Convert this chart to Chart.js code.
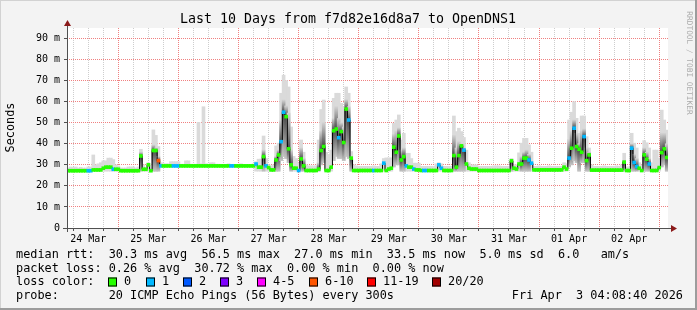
<!DOCTYPE html>
<html>
<head>
<meta charset="utf-8">
<script src="https://cdn.jsdelivr.net/npm/chart.js@4.4.1/dist/chart.umd.min.js"></script>
<style>
  html, body { margin: 0; padding: 0; background: #f3f3f3; }
</style>
</head>
<body>
<canvas id="c" width="697" height="310"></canvas>
<script>
const _ = null;

// hours from the left edge of the plot to 25 Mar 00:00
const firstMidnight = 20.5;
const dayLabels = ['24 Mar', '25 Mar', '26 Mar', '27 Mar', '28 Mar', '29 Mar', '30 Mar', '31 Mar', '01 Apr', '02 Apr'];
const yTicks = [0, 5, 10, 15, 20, 25, 30, 35, 40, 45, 50, 55, 60, 65, 70, 75, 80, 85, 90, 95];

// median rtt (ms), one value per hour, 24 per row
const median = [
  27.2,27.2,27.2,27.2,27.2,27.2,27.2,27.2,27.2,27.2,27.6,27.6,27.6,27.6,28.4,28.9,28.9,28.9,27.9,27.9,27.9,27.2,27.2,27.2,
  27.2,27.2,27.2,27.2,27.2,34.2,27.9,27.9,30,27.2,36.8,36.8,32,29.5,29.5,29.5,29.5,29.5,29.5,29.5,29.5,29.5,29.5,29.5,
  29.5,29.5,29.5,29.5,29.5,29.5,29.5,29.5,29.5,29.5,29.5,29.5,29.5,29.5,29.5,29.5,29.5,29.5,29.5,29.5,29.5,29.5,29.5,29.5,
  29.5,29.5,29.5,30.4,28.9,28.9,33.9,29.5,28.7,27.6,27.6,32.3,34.7,41,55,52.9,37.6,30,28.4,28.4,27.3,32.8,29.5,27.3,
  27.3,27.3,27.3,27.3,28,36.8,38.7,27.3,27.3,28.9,46.2,47,42.9,45.8,40.6,56.5,51.3,33.2,27.3,27.3,27.3,27.3,27.3,27.3,
  27.3,27.3,27.3,27.3,27.3,27.3,30.8,27.3,28,28.4,38.4,36,43.7,32.3,33.9,29.5,28.9,28.9,28,27.6,27.6,27.3,27.3,27.3,
  27.3,27.3,27.3,27.3,30,28.4,27.3,27.3,27.3,27.3,34.4,28.9,34.4,39,37,30.4,28.4,28,28,28,27.3,27.3,27.3,27.3,
  27.3,27.3,27.3,27.3,27.3,27.3,27.3,27.3,27.3,31.9,28.4,28,30.4,30.4,33.2,33.2,32.3,30.8,27.6,27.6,27.6,27.6,27.6,27.6,
  27.6,27.6,27.6,27.6,27.6,27.6,28.9,28,33.2,37.9,47.4,38.7,37.4,36,43.4,32,34.7,27.5,27.5,27.5,27.5,27.5,27.5,27.5,
  27.5,27.5,27.5,27.5,27.5,27.5,31.3,27.3,27.3,37.9,31.1,29.2,28.4,27.3,34.7,32.7,30.4,27.3,27.3,27.3,28.7,35.8,37.6,33.5
];

// lost pings out of 20, per hour
const loss = [
  0,0,0,0,0,0,0,0,1,1,0,0,0,0,0,0,0,0,1,0,0,0,0,0,
  0,0,0,0,0,0,0,0,0,0,0,0,6,1,0,0,0,0,1,1,1,0,0,0,
  0,0,0,0,0,0,0,0,0,0,0,0,0,0,0,0,0,1,1,0,0,0,0,0,
  0,0,0,1,0,0,0,1,0,0,0,0,0,1,1,0,0,0,0,0,1,0,0,0,
  0,0,0,0,0,0,0,0,0,0,0,0,1,0,0,0,1,0,0,0,0,0,0,0,
  0,0,1,0,0,0,1,0,0,0,0,0,0,0,0,1,0,0,1,0,0,0,1,1,
  0,0,0,0,1,1,0,0,0,0,0,0,0,0,1,0,0,0,0,0,0,0,0,0,
  0,0,0,0,0,0,0,0,0,0,0,0,0,0,0,0,1,1,0,0,0,0,0,0,
  0,0,0,0,0,0,0,0,1,0,1,0,0,0,1,0,0,0,0,0,0,0,0,0,
  0,0,0,0,0,0,0,0,0,1,1,1,0,0,0,0,1,0,0,0,0,0,0,0
];

// smoke: lowest ping, highest ping, top of the dense part
const smokeLow = [
  27,27,27,27,27,27,27,27,27,27,27,27,27,27,27,27,27,27,27,27,27,27,27,27,
  27,27,27,27,27,27,27,27,27,27,27,27,27,29.2,29.2,29.2,29.2,29.2,29.2,29.2,29.2,29.2,29.2,29.2,
  29.2,29.2,29.2,29.2,29.2,29.2,29.2,29.2,29.2,29.2,29.2,29.2,29.2,29.2,29.2,29.2,29.2,29.2,29.2,29.2,29.2,29.2,29.2,29.2,
  29.2,29.2,29.2,27,27,27,27,27,27,27,27,27,27,32,34,33,31,27,27,27,27,27,27,27,
  27,27,27,27,27,30,31,27,27,27,32,34,33,33,32,34,33,27,27,27,27,27,27,27,
  27,27,27,27,27,27,27,27,27,27,29,30,30,27,27,27,27,27,27,27,27,27,27,27,
  27,27,27,27,27,27,27,27,27,27,27,27,27,27,27,27,27,27,27,27,27,27,27,27,
  27,27,27,27,27,27,27,27,27,27,27,27,27,27,27,27,27,27,27,27,27,27,27,27,
  27,27,27,27,27,27,27,27,29,30,32,31,27,31,31,27,27,27,27,27,27,27,27,27,
  27,27,27,27,27,27,27,27,27,27,27,27,27,27,27,27,27,27,27,27,27,29,30,27
];
const smokeTop = [
  28.5,29,28.8,29,28.5,28.8,28.5,28.5,29,29,34.7,30,30.5,31,31.9,31.9,33.2,33.2,32.5,30,29.5,28.5,28.5,28.5,
  29,29,29,28.5,29,37.4,30,28.5,31,28.5,46.6,44,38.7,31,30.5,30.5,30.5,31.5,31.5,31.5,31.5,30.3,30.3,31.9,
  31.9,30.3,30.3,30.3,50.2,30.5,57.6,30.5,30.3,31,31,30.3,30.3,30.2,30.2,30.2,30.5,30.2,30.2,30.2,30.2,30.5,30.2,30.2,
  30.2,30.2,30.5,31.5,32.7,32.7,43.7,33,30,29.5,30,39,40.3,64,72.6,70,67,48,34,33,31,41.8,36,30,
  29.5,29.5,29.5,29.5,41.8,56.3,60.8,36,35,37,61.6,64,64,59.2,57.6,67,64,36.3,30,29.5,29.3,29.3,29.3,29.3,
  29.3,29.3,29.5,29.3,29.3,30.5,33,33.3,33.3,33.3,49.7,51.3,53.7,41.8,45,35.5,35.5,33,30.8,30.8,30.8,29.3,29.3,29.3,
  29.3,29.3,29.3,30.5,31,30.5,29.3,29.3,29.3,29.3,53.2,45.8,47.4,45.8,43,37,31,30,30,30,29.3,29.3,29.3,29.3,
  29.3,29.3,29.5,29.5,29.5,29.3,29.3,29.3,29.3,33,30,30,35.7,40.3,42.6,42.6,39.5,36,29.3,29.3,29.5,29.3,29.3,29.3,
  29.5,29.3,29.3,29.3,29.3,29.3,31,30.5,51.3,55,60,52.1,45,53.2,53.2,43.4,38,30,29.3,29.3,29.3,29.3,29.5,29.3,
  29.3,29.3,29.3,29.5,29.3,30,35.5,29,29,45,40.3,38,31,30,41.5,40.5,38,31,37,37,33,56,51.3,46.5
];
const smokeDark = [
  _,_,_,_,_,_,_,_,_,_,_,_,_,_,_,_,_,_,_,_,_,_,_,_,
  _,_,_,_,_,36,_,_,_,_,39.4,38,34,_,_,_,_,_,_,_,_,_,_,_,
  _,_,_,_,_,_,_,_,_,_,_,_,_,_,_,_,_,_,_,_,_,_,_,_,
  _,_,_,_,_,_,37,_,_,_,_,34,37,51,60.8,58,54.6,37,_,_,_,38,33,_,
  _,_,_,_,31,46,50,_,_,_,52,57.6,52,50,48,61,57.6,33,_,_,_,_,_,_,
  _,_,_,_,_,_,_,_,_,_,44.5,46,47.5,37,38,_,_,_,_,_,_,_,_,_,
  _,_,_,_,_,_,_,_,_,_,44,38,41,40,38,_,_,_,_,_,_,_,_,_,
  _,_,_,_,_,_,_,_,_,32,_,_,_,34,36,37,35,_,_,_,_,_,_,_,
  _,_,_,_,_,_,_,_,42,46,51.3,45,40,46,47,38,36,_,_,_,_,_,_,_,
  _,_,_,_,_,_,32,_,_,40,35,33,_,_,38,36,33,_,_,_,_,45,45,40
];

const lossLabels = ['0', '1', '2', '3', '4-5', '6-10', '11-19', '20/20'];
const lossColors = ['#26ff00', '#00b8ff', '#0059ff', '#7e00ff', '#ff00ff', '#ff5500', '#ff0000', '#a10000'];

const titleText = 'Last 10 Days from f7d82e16d8a7 to OpenDNS1';
const legendRows = [
  'median rtt:  30.3 ms avg  56.5 ms max  27.0 ms min  33.5 ms now  5.0 ms sd  6.0   am/s',
  'packet loss: 0.26 % avg  30.72 % max  0.00 % min  0.00 % now',
  'loss color:',
  'probe:       20 ICMP Echo Pings (56 Bytes) every 300s'
];
const stampText = 'Fri Apr  3 04:08:40 2026';

function lossBucket(n) {
  if (n <= 3) return n;
  if (n <= 5) return 4;
  if (n <= 10) return 5;
  if (n <= 19) return 6;
  return 7;
}

const lightData = median.map((m, i) => ({ x: i + 0.5, y: [smokeLow[i], smokeTop[i]] }));
const darkData = [];
smokeDark.forEach((d, i) => {
  if (d !== null) darkData.push({ x: i + 0.5, y: [smokeLow[i], d], m: median[i] });
});
const lineData = median.map((m, i) => ({ x: i + 0.5, y: m }));
const markData = median.map((m, i) => ({ x: i + 0.5, y: [m - 0.7, m + 0.7] }));

const mono = 'DejaVu Sans Mono';
const pink = '#f08080';
const grey = '#cdcdcd';

function xGridColor(c) {
  if (!c.tick) return grey;
  const k = Math.round((c.tick.value - firstMidnight) / 6);
  return ((k % 4) + 4) % 4 === 0 ? pink : grey;
}
function yGridColor(c) {
  if (!c.tick) return grey;
  return c.tick.value % 10 === 0 ? pink : grey;
}

const frame = {
  id: 'frame',
  beforeDraw(chart) {
    const { ctx, chartArea: a } = chart;
    ctx.save();
    ctx.fillStyle = '#f3f3f3';
    ctx.fillRect(0, 0, 697, 310);
    ctx.fillStyle = '#ffffff';
    ctx.fillRect(a.left, a.top, a.right - a.left, a.bottom - a.top);
    ctx.restore();
  },
  afterDraw(chart) {
    const { ctx, chartArea: a } = chart;
    ctx.save();

    // axes with arrows
    ctx.strokeStyle = '#505050';
    ctx.lineWidth = 1;
    ctx.beginPath();
    ctx.moveTo(a.left + 0.5, a.bottom + 4);
    ctx.lineTo(a.left + 0.5, a.top - 4);
    ctx.moveTo(a.left - 4, a.bottom + 0.5);
    ctx.lineTo(a.right + 5, a.bottom + 0.5);
    ctx.stroke();
    ctx.fillStyle = '#8b1a1a';
    ctx.beginPath();
    ctx.moveTo(a.left + 0.5, a.top - 8);
    ctx.lineTo(a.left - 3, a.top - 2);
    ctx.lineTo(a.left + 4, a.top - 2);
    ctx.closePath();
    ctx.fill();
    ctx.beginPath();
    ctx.moveTo(a.right + 9, a.bottom + 0.5);
    ctx.lineTo(a.right + 3, a.bottom - 3);
    ctx.lineTo(a.right + 3, a.bottom + 4);
    ctx.closePath();
    ctx.fill();

    // title
    ctx.fillStyle = '#000';
    ctx.textBaseline = 'middle';
    ctx.textAlign = 'center';
    ctx.font = '13.3px "' + mono + '"';
    ctx.fillText(titleText, 348, 19.5);

    // y title
    ctx.font = '11.85px "' + mono + '"';
    ctx.save();
    ctx.translate(11, 127.5);
    ctx.rotate(-Math.PI / 2);
    ctx.fillText('Seconds', 0, 0);
    ctx.restore();

    // side credit
    ctx.save();
    ctx.fillStyle = '#ababab';
    ctx.font = '7.8px "' + mono + '"';
    ctx.translate(689, 63);
    ctx.rotate(Math.PI / 2);
    ctx.fillText('RRDTOOL / TOBI OETIKER', 0, 0);
    ctx.restore();

    // legend
    ctx.textAlign = 'left';
    ctx.font = '11.85px "' + mono + '"';
    const rowY = [255, 268.5, 282, 296];
    legendRows.forEach((t, i) => ctx.fillText(t, 16, rowY[i]));
    ctx.textAlign = 'right';
    ctx.fillText(stampText, 683, rowY[3]);
    ctx.textAlign = 'left';
    const boxX = [108, 146, 183, 220, 257, 309, 367, 432];
    lossLabels.forEach((lab, i) => {
      ctx.fillStyle = lossColors[i];
      ctx.fillRect(boxX[i], rowY[2] - 4.5, 9, 9);
      ctx.strokeStyle = '#000';
      ctx.strokeRect(boxX[i] + 0.5, rowY[2] - 4.5 + 0.5, 8, 8);
      ctx.fillStyle = '#000';
      ctx.fillText(lab, boxX[i] + 16, rowY[2]);
    });

    // outer frame
    ctx.fillStyle = '#d2d2d2';
    ctx.fillRect(0, 0, 697, 1);
    ctx.fillRect(0, 0, 1, 310);
    ctx.fillStyle = '#9c9c9c';
    ctx.fillRect(0, 308, 697, 2);
    ctx.fillRect(695, 0, 2, 310);
    ctx.restore();
  }
};

new Chart(document.getElementById('c'), {
  type: 'bar',
  data: {
    datasets: [
      {
        label: 'smoke',
        data: lightData,
        backgroundColor: '#dadada',
        grouped: false,
        barThickness: 3,
        borderWidth: 0,
        order: 4
      },
      {
        label: 'smoke dense',
        data: darkData,
        grouped: false,
        barThickness: 3,
        borderWidth: 0,
        order: 3,
        backgroundColor(c) {
          if (c.type !== 'data' || !c.raw) return '#888';
          const ys = c.chart.scales.y;
          const top = ys.getPixelForValue(c.raw.y[1]);
          const bot = ys.getPixelForValue(c.raw.y[0]);
          const mid = ys.getPixelForValue(c.raw.m);
          if (!(bot > top + 1)) return '#707070';
          const f = Math.min(Math.max((mid - top) / (bot - top), 0.02), 0.98);
          const g = c.chart.ctx.createLinearGradient(0, top, 0, bot);
          g.addColorStop(0, '#d2d2d2');
          g.addColorStop(f, '#4a4a4a');
          g.addColorStop(1, '#c4c4c4');
          return g;
        }
      },
      {
        type: 'line',
        label: 'median',
        data: lineData,
        stepped: 'middle',
        borderColor: '#000',
        borderWidth: 1,
        pointRadius: 0,
        fill: false,
        order: 2
      },
      {
        label: 'loss',
        data: markData,
        grouped: false,
        barThickness: 3,
        borderWidth: 0,
        order: 1,
        backgroundColor: c => lossColors[lossBucket(loss[c.dataIndex] || 0)]
      }
    ]
  },
  options: {
    responsive: false,
    devicePixelRatio: 1,
    animation: false,
    events: [],
    layout: { padding: { top: 28, right: 29, left: 0, bottom: 0 } },
    plugins: { legend: { display: false }, tooltip: { enabled: false } },
    scales: {
      x: {
        type: 'linear',
        min: 0,
        max: 240,
        offset: false,
        afterBuildTicks(s) {
          const t = [];
          for (let v = firstMidnight - 18; v <= 240; v += 6) t.push({ value: v });
          s.ticks = t;
        },
        afterFit(s) { s.height = 82; },
        ticks: {
          autoSkip: false,
          maxRotation: 0,
          padding: 2,
          color: '#000',
          font: { family: mono, size: 10 },
          callback: (v, i) => (i % 4 === 1 ? dayLabels[(i - 1) / 4] : '')
        },
        grid: {
          offset: false,
          color: xGridColor,
          tickLength: 3,
          tickColor: '#505050'
        },
        border: { display: false, dash: [1, 1] }
      },
      y: {
        min: 0,
        max: 95,
        afterBuildTicks(s) { s.ticks = yTicks.map(v => ({ value: v })); },
        afterFit(s) { s.width = 67; },
        ticks: {
          padding: 4,
          color: '#000',
          font: { family: mono, size: 10 },
          callback: v => (v % 10 !== 0 ? '' : (v === 0 ? '0' : v + ' m'))
        },
        grid: {
          color: yGridColor,
          tickLength: 3,
          tickColor: '#505050'
        },
        border: { display: false, dash: [1, 1] }
      }
    }
  },
  plugins: [frame]
});
</script>
</body>
</html>
